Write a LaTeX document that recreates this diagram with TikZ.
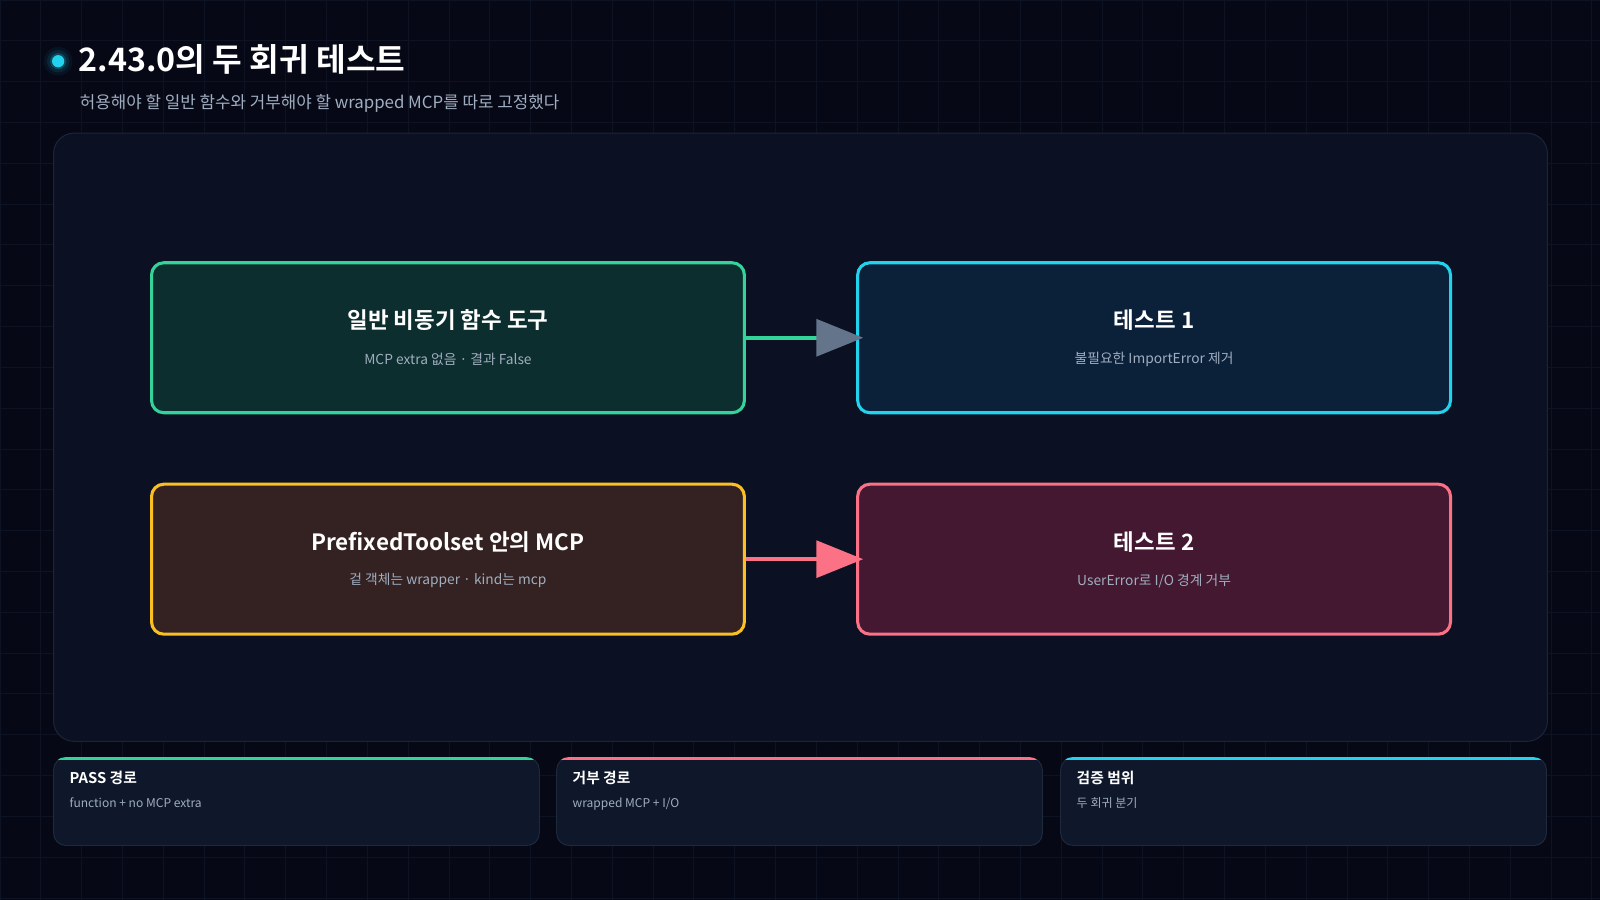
\documentclass[tikz,border=0pt]{standalone}
\usepackage{fontspec}
\setmainfont{Noto Sans CJK KR}[BoldFont={Noto Sans CJK KR Bold}]
\usetikzlibrary{arrows.meta}
\definecolor{bg}{HTML}{060816}
\definecolor{gridc}{HTML}{0E1324}
\definecolor{panel}{HTML}{0B1122}
\definecolor{panelb}{HTML}{1C2436}
\definecolor{cyanc}{HTML}{22D3EE}
\definecolor{greenc}{HTML}{34D399}
\definecolor{yellowc}{HTML}{FBBF24}
\definecolor{pinkc}{HTML}{FB7185}
\definecolor{slatec}{HTML}{64748B}
\definecolor{subc}{HTML}{A0AEC0}
\definecolor{card}{HTML}{0F172A}
\definecolor{cardb}{HTML}{1E293B}
\tikzset{
  box/.style={draw, line width=3pt, rounded corners=12pt, minimum width=581pt, minimum height=147pt, anchor=north west},
  btitle/.style={text=white, font=\bfseries\fontsize{22}{26}\selectfont},
  bsub/.style={text=subc, font=\fontsize{13.5}{16}\selectfont},
  card/.style={draw=cardb, fill=card, line width=1pt, rounded corners=12pt, minimum width=476pt, minimum height=86pt, anchor=north west},
  ctitle/.style={text=white, font=\bfseries\fontsize{14.5}{17}\selectfont, anchor=base west},
  csub/.style={text=subc, font=\fontsize{11.8}{14}\selectfont, anchor=base west},
  conn/.style={line width=4pt, shorten >=-7pt},
}
\begin{document}
\begin{tikzpicture}[x=1pt,y=-1pt]
\useasboundingbox (0,0) rectangle (1568,882);
\fill[bg] (0,0) rectangle (1568,882);
\foreach \i in {0,40,...,1560} \draw[gridc, line width=0.8pt] (\i,0) -- (\i,882);
\foreach \j in {0,40,...,880} \draw[gridc, line width=0.8pt] (0,\j) -- (1568,\j);
% title
\foreach \r/\o in {14/0.06,11/0.1,8/0.2} \fill[cyanc, opacity=\o] (57,60) circle (\r);
\node[circle, fill=cyanc, inner sep=0, minimum size=12pt] (dot) at (57,60) {};
\node[anchor=base west, text=white, font=\bfseries\fontsize{31.6}{38}\selectfont, inner sep=0] (title) at (77,70) {2.43.0의 두 회귀 테스트};
\node[anchor=base west, text=subc, font=\fontsize{16.5}{19}\selectfont, inner sep=0] (subtitle) at (78,106) {허용해야 할 일반 함수와 거부해야 할 wrapped MCP를 따로 고정했다};
% panel
\node[draw=panelb, fill=panel, line width=1pt, rounded corners=20pt, minimum width=1464pt, minimum height=596pt, anchor=north west] (panel) at (52,130) {};
% boxes
\node[box, draw=greenc, fill={rgb,255:red,13;green,46;blue,46}] (b1) at (147,256) {};
\node[box, draw=cyanc, fill={rgb,255:red,11;green,33;blue,58}] (b2) at (839,256) {};
\node[box, draw=yellowc, fill={rgb,255:red,51;green,34;blue,33}] (b3) at (147,473) {};
\node[box, draw=pinkc, fill={rgb,255:red,67;green,24;blue,48}] (b4) at (839,473) {};
\node[btitle] (t1) at ([yshift=17pt]b1.center) {일반 비동기 함수 도구};
\node[bsub] (s1) at ([yshift=-21pt]b1.center) {MCP extra 없음 · 결과 False};
\node[btitle] (t2) at ([yshift=17pt]b2.center) {테스트 1};
\node[bsub] (s2) at ([yshift=-21pt]b2.center) {불필요한 ImportError 제거};
\node[btitle] (t3) at ([yshift=17pt]b3.center) {PrefixedToolset 안의 MCP};
\node[bsub] (s3) at ([yshift=-21pt]b3.center) {겉 객체는 wrapper · kind는 mcp};
\node[btitle] (t4) at ([yshift=17pt]b4.center) {테스트 2};
\node[bsub] (s4) at ([yshift=-21pt]b4.center) {UserError로 I/O 경계 거부};
% connectors
\draw[conn, greenc, -{Triangle[length=46pt,width=36pt,fill=slatec,color=slatec]}] (b1.east) -- (b2.west);
\draw[conn, pinkc, -{Triangle[length=46pt,width=36pt]}] (b3.east) -- (b4.west);
% cards
\foreach \n/\x/\c/\t/\s in {c1/52/greenc/{PASS 경로}/{function + no MCP extra}, c2/545/pinkc/{거부 경로}/{wrapped MCP + I/O}, c3/1039/cyanc/{검증 범위}/{두 회귀 분기}}{
  \node[card] (\n) at (\x,742) {};
  \begin{scope}
    \clip[rounded corners=12pt] (\x,742) rectangle ++(476,86);
    \fill[\c] (\x,742) rectangle ++(476,2.5);
  \end{scope}
  \node[ctitle, inner sep=0] (\n t) at (\x+16,768) {\t};
  \node[csub, inner sep=0] (\n s) at (\x+16,791) {\s};
}
\end{tikzpicture}
\end{document}
